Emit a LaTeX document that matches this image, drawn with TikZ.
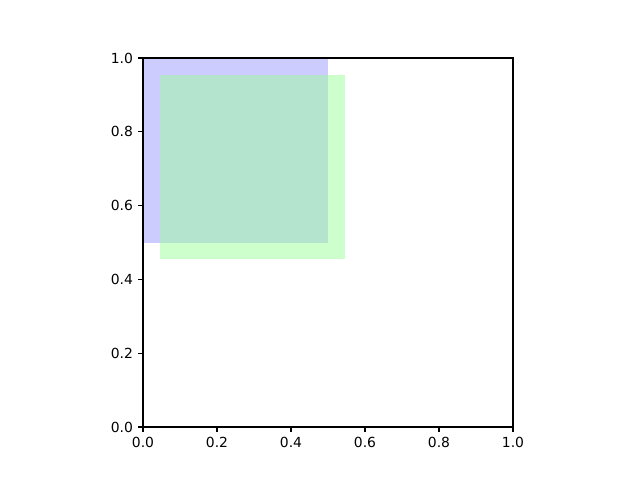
\documentclass[tikz,border=0pt]{standalone}
\usepackage{fontspec}
\setmainfont{DejaVu Sans}
\definecolor{bluefill}{RGB}{204,204,255}
\definecolor{greenfill}{RGB}{204,255,204}
\definecolor{overlapfill}{RGB}{181,228,206}
\begin{document}
\begin{tikzpicture}[x=370pt,y=369pt,
  ticklabel/.style={inner sep=0pt,font=\fontsize{13.9}{16}\selectfont},
  spine/.style={line width=1.11pt,black},
  tickmark/.style={line width=1.11pt,black}]
\useasboundingbox[fill=white] (-0.3865,-0.1436) rectangle (1.3432,1.1572);
% rectangles
\fill[bluefill] (0,0.5) rectangle (0.5,1.0);
\fill[greenfill] (0.045,0.455) rectangle (0.545,0.955);
\fill[overlapfill] (0.045,0.5) rectangle (0.5,0.955);
% axes frame
\draw[spine] (0,0) rectangle (1,1);
\foreach \v in {0.0,0.2,0.4,0.6,0.8,1.0}{
  \draw[tickmark] (\v,0) -- ++(0,-4.86pt);
  \draw[tickmark] (0,\v) -- ++(-4.86pt,0);
  \node[ticklabel,anchor=north] (xl\v) at ([yshift=-9.9pt]\v,0) {\v};
  \node[ticklabel,anchor=east] (yl\v) at ([xshift=-9.9pt]0,\v) {\v};
}
\end{tikzpicture}
\end{document}
